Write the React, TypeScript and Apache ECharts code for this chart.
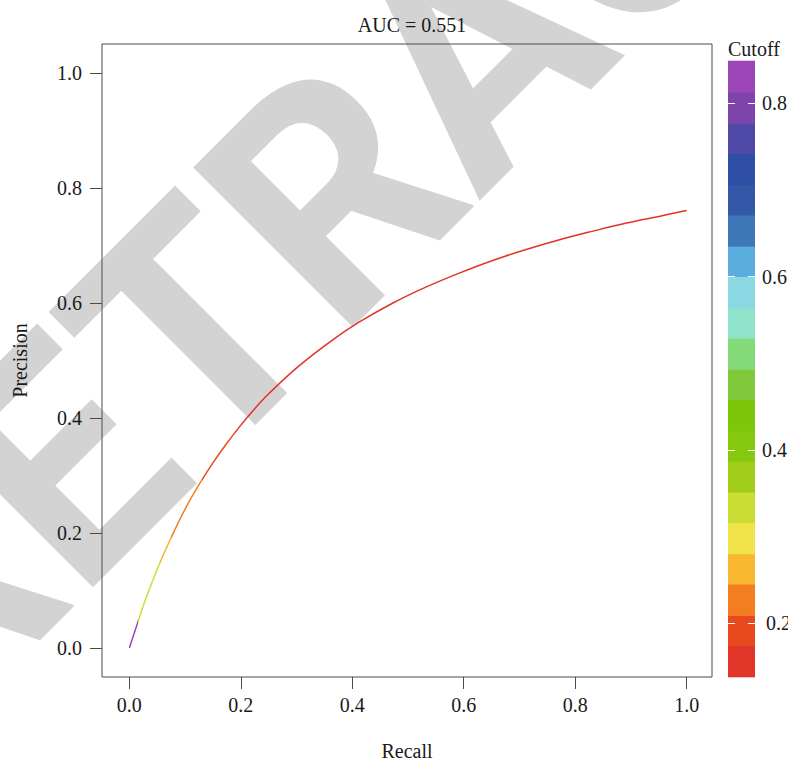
import React, { useEffect, useRef } from "react";
import * as echarts from "echarts";

const titleText = "AUC = 0.551";
const xName = "Recall";
const yName = "Precision";
const legendTitle = "Cutoff";
const watermarkText = "RETRACTED";

const recall = [0, 0.015, 0.03, 0.054, 0.078, 0.102, 0.125, 0.15, 0.175, 0.198, 0.225, 0.251, 0.305, 0.365, 0.413, 0.473, 0.533, 0.592, 0.652, 0.712, 0.772, 0.832, 0.892, 0.952, 1.0];
const precision = [0, 0.044, 0.087, 0.146, 0.198, 0.245, 0.284, 0.322, 0.356, 0.385, 0.416, 0.443, 0.491, 0.536, 0.567, 0.6, 0.628, 0.652, 0.674, 0.693, 0.71, 0.725, 0.739, 0.751, 0.761];

// colour of the curve by recall range (cutoff colouring)
const curveBreaks = [0, 0.015, 0.055, 0.075, 0.13, 0.19, 1.0];
const curveColors = ["#9a44b8", "#cfdd35", "#f6b533", "#f37e22", "#e84b1f", "#e03425"];

// colour bar
const cutoffBreaks = [0.138, 0.174, 0.209, 0.245, 0.28, 0.316, 0.351, 0.387, 0.422, 0.458, 0.493, 0.529, 0.564, 0.6, 0.635, 0.671, 0.706, 0.742, 0.777, 0.813, 0.849];
const cutoffColors = ["#e03528", "#e84a1f", "#f37d21", "#f8b631", "#f1e44a", "#c9dd34", "#a1cd18", "#86c80f", "#7dc60a", "#7fc93b", "#84d978", "#8ee3ca", "#89d8e2", "#5aaddc", "#3e77b7", "#3457a7", "#2e4fa5", "#4f4aa7", "#7d44a9", "#9b45b9"];

const xTicks = [0, 0.2, 0.4, 0.6, 0.8, 1.0];
const yTicks = [0, 0.2, 0.4, 0.6, 0.8, 1.0];
const cutoffTicks = [0.2, 0.4, 0.6, 0.8];

const FONT = "Liberation Serif";
const TXT = "#1a1a1a";
const AX = "#4a4a4a";

export default function App() {
  const ref = useRef<HTMLDivElement>(null);
  useEffect(() => {
    document.body.style.margin = "0";
    if (!ref.current) return;
    const chart = echarts.init(ref.current, undefined, { renderer: "svg" });
    const curveData = recall.map((r, i) => [r, precision[i]]);
    const pieces = curveColors.map((c, i) => ({ gte: curveBreaks[i], lt: curveBreaks[i + 1] + (i === curveColors.length - 1 ? 0.1 : 0), color: c }));
    const barData = cutoffColors.map((_, i) => [cutoffBreaks[i], cutoffBreaks[i + 1]]);
    chart.setOption({
      animation: false,
      backgroundColor: "#fff",
      textStyle: { fontFamily: FONT, color: TXT },
      title: {
        text: titleText,
        left: 407,
        top: 10,
        textAlign: "center",
        textStyle: { fontFamily: FONT, fontSize: 20, fontWeight: "normal", color: TXT },
      },
      graphic: [
        {
          type: "text",
          x: 474,
          y: 52,
          rotation: Math.PI / 4,
          scaleX: 0.97,
          z: -10,
          silent: true,
          style: {
            text: watermarkText,
            fontFamily: "Roboto",
            fontWeight: "bold",
            fontSize: 318,
            fill: "#d3d3d3",
            align: "center",
            verticalAlign: "middle",
          },
        },
        {
          type: "text",
          x: 728,
          y: 49,
          z: 10,
          style: { text: legendTitle, fontFamily: FONT, fontSize: 20, fill: TXT, align: "left", verticalAlign: "middle" },
        },
      ],
      visualMap: [
        { type: "piecewise", show: false, dimension: 0, seriesIndex: 0, pieces },
      ],
      grid: [
        { left: 102, right: 76, top: 44, bottom: 84, show: true, borderColor: AX, borderWidth: 1, backgroundColor: "transparent", z: 1, outerBoundsMode: "none" },
        { left: 728, width: 27, top: 61, bottom: 84, show: false, outerBoundsMode: "none" },
      ],
      xAxis: [
        {
          gridIndex: 0,
          type: "value",
          min: -0.049,
          max: 1.0455,
          name: xName,
          nameLocation: "middle",
          nameGap: 64,
          nameTextStyle: { fontFamily: FONT, fontSize: 20, color: TXT },
          axisLine: { show: false, onZero: false },
          splitLine: { show: false },
          axisTick: { show: true, length: 12, customValues: xTicks, lineStyle: { color: AX } },
          axisLabel: { customValues: xTicks, margin: 18, fontFamily: FONT, fontSize: 20, color: TXT, formatter: (v: number) => v.toFixed(1) },
        },
        { gridIndex: 1, type: "value", min: 0, max: 1, show: false },
      ],
      yAxis: [
        {
          gridIndex: 0,
          type: "value",
          min: -0.0504,
          max: 1.0504,
          name: yName,
          nameLocation: "middle",
          nameGap: 72,
          nameTextStyle: { fontFamily: FONT, fontSize: 20, color: TXT },
          axisLine: { show: false, onZero: false },
          splitLine: { show: false },
          axisTick: { show: true, length: 12, customValues: yTicks, lineStyle: { color: AX } },
          axisLabel: { customValues: yTicks, margin: 20, fontFamily: FONT, fontSize: 20, color: TXT, formatter: (v: number) => v.toFixed(1) },
        },
        {
          gridIndex: 1,
          type: "value",
          position: "right",
          min: 0.138,
          max: 0.849,
          z: 10,
          axisLine: { show: false, onZero: false },
          splitLine: { show: false },
          axisTick: { show: true, inside: true, length: 27, customValues: cutoffTicks, lineStyle: { color: "#ffffff", width: 1, type: [7, 13] } },
          axisLabel: {
            customValues: cutoffTicks,
            margin: 7,
            fontFamily: FONT,
            fontSize: 20,
            color: TXT,
            formatter: (v: number) => (Math.abs(v - 0.2) < 1e-6 ? "{s|" + v.toFixed(1) + "}" : v.toFixed(1)),
            rich: { s: { fontFamily: FONT, fontSize: 20, color: TXT, padding: [0, 0, 0, 4] } },
          },
        },
      ],
      series: [
        {
          type: "line",
          xAxisIndex: 0,
          yAxisIndex: 0,
          data: curveData,
          smooth: 0.4,
          showSymbol: false,
          lineStyle: { width: 1.5 },
          z: 5,
        },
        {
          type: "custom",
          xAxisIndex: 1,
          yAxisIndex: 1,
          data: barData,
          renderItem: (params: any, api: any) => {
            const lo = api.value(0);
            const hi = api.value(1);
            const p1 = api.coord([0, hi]);
            const p2 = api.coord([1, lo]);
            return {
              type: "rect",
              shape: { x: p1[0], y: p1[1] - 0.3, width: p2[0] - p1[0], height: p2[1] - p1[1] + 0.6 },
              style: { fill: cutoffColors[params.dataIndex] },
            };
          },
        },
      ],
    });
    return () => chart.dispose();
  }, []);
  return <div ref={ref} style={{ width: 788, height: 761 }} />;
}
